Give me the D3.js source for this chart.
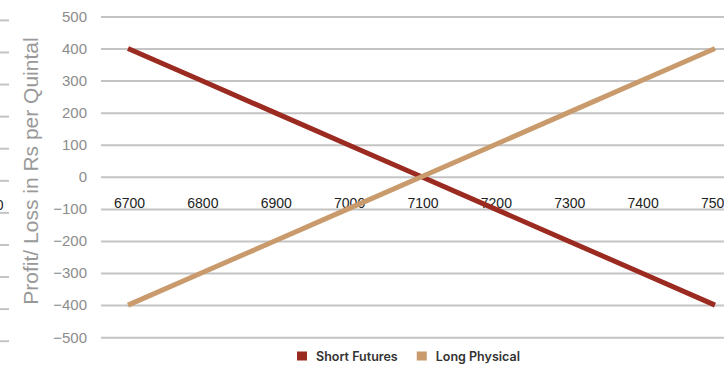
<!DOCTYPE html>
<html>
<head>
<meta charset="utf-8">
<script src="https://cdn.jsdelivr.net/npm/d3@7/dist/d3.min.js"></script>
<style>
  html, body { margin: 0; padding: 0; background: #fff; }
  svg { display: block; }
</style>
</head>
<body>
<svg id="chart" width="724" height="365"></svg>
<script>
// Spot price per quintal at expiry
const categories = [6700, 6800, 6900, 7000, 7100, 7200, 7300, 7400, 7500];
// Profit / loss of each leg (Rs per quintal)
const shortFutures = [400, 300, 200, 100, 0, -100, -200, -300, -400];
const longPhysical = [-400, -300, -200, -100, 0, 100, 200, 300, 400];
const yTicks = [500, 400, 300, 200, 100, 0, -100, -200, -300, -400, -500];
const seriesNames = ["Short Futures", "Long Physical"];
const seriesColors = ["#9b2a20", "#c99b6c"];

const svg = d3.select("#chart");
const W = 724, H = 365;

const x = d3.scaleLinear().domain([6700, 7500]).range([128, 715]);
const y = d3.scaleLinear().domain([-500, 500]).range([337.2, 16.4]);

// Partial neighbouring panel at the left edge
const edge = svg.append("g");
edge.selectAll("line").data(yTicks).join("line")
  .attr("x1", 0).attr("x2", 9)
  .attr("y1", d => y(d) + 4).attr("y2", d => y(d) + 4)
  .attr("stroke", "#c4c4c4").attr("stroke-width", 2);
edge.append("text")
  .attr("x", 3.5).attr("y", 210)
  .attr("text-anchor", "end")
  .attr("font-family", "Liberation Sans, Arial, sans-serif")
  .attr("font-size", 14).attr("fill", "#222")
  .text("0");

// Horizontal gridlines
const yAxis = d3.axisLeft(y).tickValues(yTicks).tickSize(-(W - 101)).tickPadding(14);
const gy = svg.append("g").attr("transform", "translate(101,0)").call(yAxis);
gy.select(".domain").remove();
gy.selectAll(".tick line").attr("stroke", "#c4c4c4").attr("stroke-width", 2);
gy.selectAll(".tick text")
  .attr("font-family", "Liberation Sans, Arial, sans-serif")
  .attr("font-size", 15).attr("fill", "#8c8c8c");

// Category labels sitting below the zero line
const xAxis = d3.axisBottom(x).tickValues(categories).tickSize(0).tickPadding(0)
  .tickFormat(d3.format("d"));
const gx = svg.append("g").attr("transform", `translate(1,${y(0)})`).call(xAxis);
gx.select(".domain").remove();
gx.selectAll(".tick text")
  .attr("dy", null).attr("y", 31)
  .attr("font-family", "Liberation Sans, Arial, sans-serif")
  .attr("font-size", 14).attr("fill", "#222");

// Payoff lines
const line = d3.line().x((d, i) => x(categories[i])).y(d => y(d));
[shortFutures, longPhysical].forEach((vals, i) => {
  svg.append("path")
    .datum(vals)
    .attr("d", line)
    .attr("fill", "none")
    .attr("stroke", seriesColors[i])
    .attr("stroke-width", 5);
});

// Axis title
svg.append("text")
  .attr("transform", "translate(38,171) rotate(-90)")
  .attr("text-anchor", "middle")
  .attr("font-family", "Liberation Sans, Arial, sans-serif")
  .attr("font-size", 21).attr("fill", "#999")
  .text("Profit/ Loss in Rs per Quintal");

// Legend
const legend = svg.append("g");
let lx = 297;
seriesNames.forEach((name, i) => {
  const g = legend.append("g").attr("transform", `translate(${lx},0)`);
  g.append("rect").attr("x", 0).attr("y", 351.5).attr("width", 10).attr("height", 9)
    .attr("fill", seriesColors[i]);
  const t = g.append("text").attr("x", 19).attr("y", 360.5)
    .attr("font-family", "Inter, sans-serif").attr("font-weight", 600)
    .attr("font-size", 12.5).attr("fill", "#333").text(name);
  lx += 19 + t.node().getComputedTextLength() + 19;
});
</script>
</body>
</html>
